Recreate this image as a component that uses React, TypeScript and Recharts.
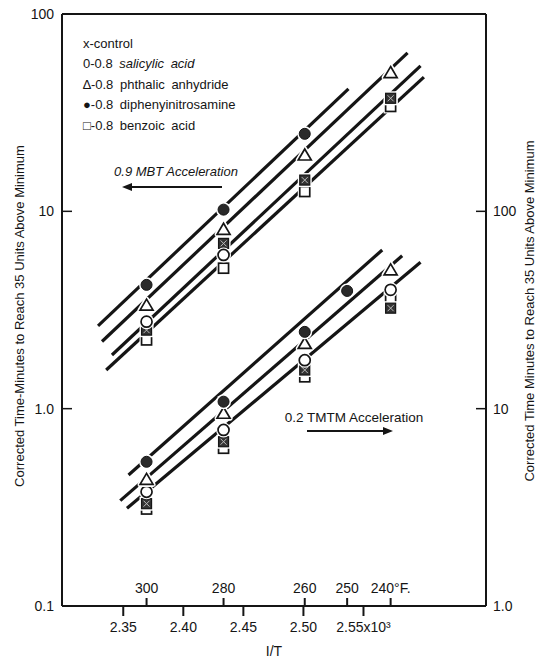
import { ComposedChart, Scatter, XAxis, YAxis, ReferenceLine } from 'recharts'

const ink = '#151515'
const font = '"Liberation Sans", Arial, sans-serif'

// axis ticks
const invTTicks = [2.35, 2.4, 2.45, 2.5, 2.55]
const invTLabels = ['2.35', '2.40', '2.45', '2.50', '2.55x10³']
const tempInvT = [2.3694, 2.4335, 2.5011, 2.5364, 2.5726]
const tempLabels = ['300', '280', '260', '250', '240°F.']
const leftTicks = [0.1, 1, 10, 100]
const leftLabels = ['0.1', '1.0', '10', '100']
const rightTicks = [1, 10, 100]
const rightLabels = ['1.0', '10', '100']

// 0.9 MBT acceleration (left axis)
const mbtX = [2.3694, 2.4335, 2.5011, 2.5726]
const mbtNitroso = [4.24, 10.2, 24.7, null]
const mbtPhthalic = [3.35, 8.11, 19.3, 50.5]
const mbtSalicylic = [2.76, 6.01, null, null]
const mbtControl = [2.5, 6.88, 14.4, 37.4]
const mbtBenzoic = [2.23, 5.15, 12.6, 34.0]

// 0.2 TMTM acceleration (right axis)
const tmtmX = [2.3694, 2.4335, 2.5011, 2.5364, 2.5726]
const tmtmNitroso = [5.38, 10.85, 24.5, 39.5, null]
const tmtmPhthalic = [4.38, 9.48, 21.4, null, 50.5]
const tmtmSalicylic = [3.79, 7.8, 17.6, null, 40]
const tmtmControl = [3.3, 6.8, 15.7, null, 32.3]
const tmtmBenzoic = [3.1, 6.3, 14.5, null, 35.6]

// fitted lines: [start, end]
const mbtFitX = [[2.329, 2.5375], [2.3323, 2.5867], [2.3406, 2.5975], [2.3358, 2.6003]]
const mbtFitY = [[2.63, 41.7], [2.19, 63.5], [1.87, 54.6], [1.57, 47.9]]
const tmtmFitX = [[2.3544, 2.5656], [2.3475, 2.5822], [2.3531, 2.5975]]
const tmtmFitY = [[4.61, 63.7], [3.42, 59.6], [3.13, 55.2]]

// short inward tick on the bottom axis for the °F scale
const tempTickTop = 0.1098

const pts = (xs: number[], ys: (number | null)[]) =>
  xs.map((x, i) => ({ x, y: ys[i] })).filter((p) => p.y != null)

// white halo under each mark breaks the fitted line, as in the print
const OpenCircle = ({ cx, cy }: any) => (
  <g>
    <circle cx={cx} cy={cy} r={7.5} fill="#fff" />
    <circle cx={cx} cy={cy} r={5.5} fill="#fff" stroke={ink} strokeWidth={1.7} />
  </g>
)
const FilledCircle = ({ cx, cy }: any) => (
  <g>
    <circle cx={cx} cy={cy} r={7.5} fill="#fff" />
    <circle cx={cx} cy={cy} r={5.5} fill="#2a2a2a" stroke={ink} strokeWidth={1} />
  </g>
)
const Triangle = ({ cx, cy }: any) => {
  const d = `M${cx},${cy - 6} L${cx + 6.5},${cy + 5} L${cx - 6.5},${cy + 5} Z`
  return (
    <g>
      <path d={d} fill="#fff" stroke="#fff" strokeWidth={5} strokeLinejoin="round" />
      <path d={d} fill="#fff" stroke={ink} strokeWidth={1.7} />
    </g>
  )
}
const OpenSquare = ({ cx, cy }: any) => (
  <g>
    <rect x={cx - 7} y={cy - 7} width={14} height={14} fill="#fff" />
    <rect x={cx - 5} y={cy - 5} width={10} height={10} fill="#fff" stroke={ink} strokeWidth={1.7} />
  </g>
)
const ControlMark = ({ cx, cy }: any) => (
  <g>
    <rect x={cx - 7} y={cy - 7} width={14} height={14} fill="#fff" />
    <rect x={cx - 5} y={cy - 5} width={10} height={10} fill="#333" stroke={ink} strokeWidth={1.2} />
    <path d={`M${cx - 3},${cy - 3} L${cx + 3},${cy + 3} M${cx + 3},${cy - 3} L${cx - 3},${cy + 3}`} stroke="#bbb" strokeWidth={1} />
  </g>
)
const NoMark = () => <g />

const LeftTick = ({ x, y, payload }: any) => (
  <g>
    <line x1={x + 8} x2={x + 18} y1={y} y2={y} stroke={ink} strokeWidth={1.5} />
    <text x={x} y={y} dy={5} textAnchor="end" fontSize={14} fontFamily={font} fill={ink}>
      {leftLabels[leftTicks.indexOf(payload.value)]}
    </text>
  </g>
)
const RightTick = ({ x, y, payload }: any) => (
  <g>
    <line x1={x - 7} x2={x - 17} y1={y} y2={y} stroke={ink} strokeWidth={1.5} />
    <text x={x} y={y} dy={5} textAnchor="start" fontSize={14} fontFamily={font} fill={ink}>
      {rightLabels[rightTicks.indexOf(payload.value)]}
    </text>
  </g>
)

export default function App() {
  const mbtLines = mbtFitX.map((xs, i) => pts(xs, mbtFitY[i]))
  const tmtmLines = tmtmFitX.map((xs, i) => pts(xs, tmtmFitY[i]))
  const tickStyle = { fill: ink, fontSize: 14, fontFamily: font }

  return (
    <div style={{ position: 'absolute', left: 0, top: 0, width: 543, height: 659, background: '#fff' }}>
      <ComposedChart width={543} height={659} margin={{ top: 14, right: 17, bottom: 3, left: 12 }}>
        <XAxis
          type="number" dataKey="x" domain={[2.299, 2.652]} allowDataOverflow ticks={invTTicks}
          tickFormatter={(v: number) => invTLabels[invTTicks.indexOf(v)]}
          tick={tickStyle} tickSize={10} tickMargin={6} height={50}
          axisLine={{ stroke: ink, strokeWidth: 2 }} tickLine={{ stroke: ink, strokeWidth: 2 }}
          label={{ value: 'I/T', position: 'insideBottom', offset: 0, fill: ink, fontSize: 14, fontFamily: font }}
        />
        <YAxis
          yAxisId="left" scale="log" domain={[0.1, 100]} allowDataOverflow ticks={leftTicks}
          width={50} tickSize={0} tickMargin={8} tick={<LeftTick />} tickLine={false}
          axisLine={{ stroke: ink, strokeWidth: 2 }}
        />
        <YAxis
          yAxisId="right" orientation="right" scale="log" domain={[1, 1000]} allowDataOverflow ticks={rightTicks}
          width={40} tickSize={0} tickMargin={7} tick={<RightTick />} tickLine={false}
          axisLine={{ stroke: ink, strokeWidth: 2 }}
        />
        <ReferenceLine yAxisId="left" y={100} stroke={ink} strokeWidth={2} />
        {tempInvT.map((t, i) => (
          <ReferenceLine
            key={'tf' + i} yAxisId="left" stroke={ink} strokeWidth={2}
            segment={[{ x: t, y: 0.1 }, { x: t, y: tempTickTop }]}
            label={{ value: tempLabels[i], position: 'top', offset: 5, fill: ink, fontSize: 14, fontFamily: font }}
          />
        ))}

        {mbtLines.map((d, i) => (
          <Scatter key={'m' + i} yAxisId="left" data={d} dataKey="y" shape={NoMark}
            line={{ stroke: ink, strokeWidth: 3.2 }} isAnimationActive={false} />
        ))}
        {tmtmLines.map((d, i) => (
          <Scatter key={'t' + i} yAxisId="right" data={d} dataKey="y" shape={NoMark}
            line={{ stroke: ink, strokeWidth: 3.2 }} isAnimationActive={false} />
        ))}

        <Scatter yAxisId="left" data={pts(mbtX, mbtBenzoic)} dataKey="y" shape={OpenSquare} isAnimationActive={false} />
        <Scatter yAxisId="left" data={pts(mbtX, mbtControl)} dataKey="y" shape={ControlMark} isAnimationActive={false} />
        <Scatter yAxisId="left" data={pts(mbtX, mbtSalicylic)} dataKey="y" shape={OpenCircle} isAnimationActive={false} />
        <Scatter yAxisId="left" data={pts(mbtX, mbtPhthalic)} dataKey="y" shape={Triangle} isAnimationActive={false} />
        <Scatter yAxisId="left" data={pts(mbtX, mbtNitroso)} dataKey="y" shape={FilledCircle} isAnimationActive={false} />

        <Scatter yAxisId="right" data={pts(tmtmX, tmtmBenzoic)} dataKey="y" shape={OpenSquare} isAnimationActive={false} />
        <Scatter yAxisId="right" data={pts(tmtmX, tmtmControl)} dataKey="y" shape={ControlMark} isAnimationActive={false} />
        <Scatter yAxisId="right" data={pts(tmtmX, tmtmSalicylic)} dataKey="y" shape={OpenCircle} isAnimationActive={false} />
        <Scatter yAxisId="right" data={pts(tmtmX, tmtmPhthalic)} dataKey="y" shape={Triangle} isAnimationActive={false} />
        <Scatter yAxisId="right" data={pts(tmtmX, tmtmNitroso)} dataKey="y" shape={FilledCircle} isAnimationActive={false} />
      </ComposedChart>

      <svg width={543} height={659} style={{ position: 'absolute', left: 0, top: 0, pointerEvents: 'none' }}
        fontFamily={font} fill={ink}>
        <text transform="translate(19,316) rotate(-90)" textAnchor="middle" dominantBaseline="central" fontSize={13}>
          Corrected Time-Minutes to Reach 35 Units Above Minimum
        </text>
        <text transform="translate(529,311) rotate(-90)" textAnchor="middle" dominantBaseline="central" fontSize={13}>
          Corrected Time Minutes to Reach 35 Units Above Minimum
        </text>

        <g fontSize={13} dominantBaseline="central" wordSpacing={3}>
          <text x={83} y={43}>x-control</text>
          <text x={83} y={63}>0-0.8 <tspan fontStyle="italic">salicylic acid</tspan></text>
          <text x={83} y={84}>∆-0.8 phthalic anhydride</text>
          <text x={83} y={104}>●-0.8 diphenyinitrosamine</text>
          <text x={83} y={125}>□-0.8 benzoic acid</text>
        </g>

        <text x={176} y={171} textAnchor="middle" dominantBaseline="central" fontSize={13} fontStyle="italic">
          0.9 MBT Acceleration
        </text>
        <line x1={222} y1={187} x2={130} y2={187} stroke={ink} strokeWidth={2} />
        <path d="M122,187 L132,183 L132,191 Z" fill={ink} />

        <text x={354} y={417} textAnchor="middle" dominantBaseline="central" fontSize={13.5}>
          0.2 TMTM Acceleration
        </text>
        <line x1={307} y1={431} x2={385} y2={431} stroke={ink} strokeWidth={2} />
        <path d="M393,431 L383,427 L383,435 Z" fill={ink} />
      </svg>
    </div>
  )
}
